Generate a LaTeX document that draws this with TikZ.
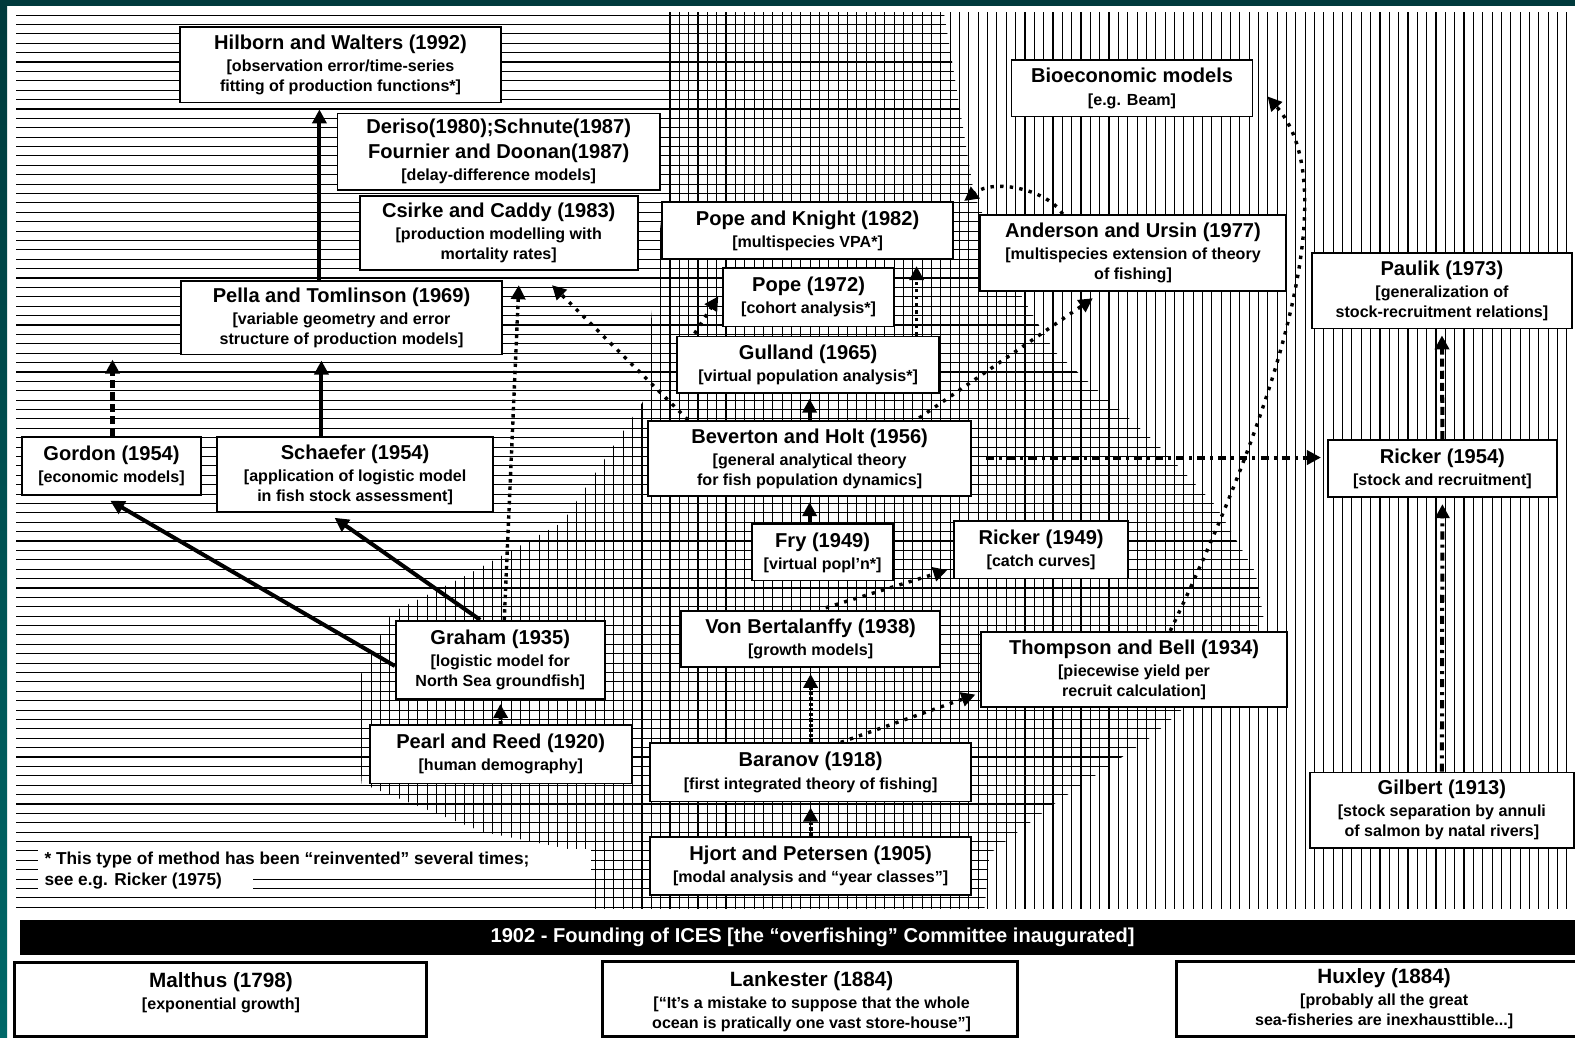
\documentclass[tikz,border=0pt]{standalone}
\usepackage{fontspec}
\setmainfont{Liberation Sans}
\usetikzlibrary{arrows.meta,calc}
\definecolor{tealdark}{HTML}{003A3C}
\definecolor{teallight}{HTML}{006868}
\newcommand{\ttl}[1]{{\fontsize{10}{12}\selectfont #1}}
\newcommand{\ttr}[1]{{\fontsize{10.3}{12}\selectfont #1}}
% box node: name, x1, y1, x2, y2, text
\newcommand{\bxn}[6]{\node[bx, minimum width={(#4-#2)*0.5pt}, minimum height={(#5-#3)*0.5pt}] (#1) at ({(#2+#4)/2},{(#3+#5)/2}) {#6};}
\newcommand{\bigbxn}[5]{\node[bigbx, minimum width={(#4-#2)*0.5pt}, minimum height={(#5-#3)*0.5pt}] (#1) at ({(#2+#4)/2},{(#3+#5)/2}) {};}
\tikzset{
  bx/.style={draw, line width=0.9pt, fill=white, inner sep=0pt, align=center,
    font=\fontsize{8}{10}\selectfont\bfseries},
  bigbx/.style={draw, line width=1.5pt, fill=white, inner sep=0pt},
  txt/.style={inner sep=0pt, align=center, font=\fontsize{8}{10}\selectfont\bfseries},
  hatch/.style={line width=0.55pt},
  tipA/.style={-{Triangle[width=7pt,length=7pt]}},
  solidarr/.style={tipA, line width=2pt},
  dotarr/.style={tipA, line width=1.7pt, dash pattern=on 1.7pt off 3.1pt},
  dotarrd/.style={tipA, line width=1.7pt, dash pattern=on 1.7pt off 1.9pt},
  dasharr/.style={tipA, line width=2pt, dash pattern=on 4pt off 2pt},
  dashdotarr/.style={tipA, line width=2pt, dash pattern=on 4pt off 2.5pt on 1.5pt off 2.5pt},
  sqarr/.style={tipA, line width=2pt, dash pattern=on 1.6pt off 1pt}
}
\begin{document}
\begin{tikzpicture}[x=0.5pt,y=-0.5pt]
\useasboundingbox (0,0) rectangle (1568,1033);
\fill[white] (0,0) rectangle (1568,1033);
\fill[tealdark] (0,0) rectangle (1568,6);
\shade[top color=tealdark, bottom color=teallight] (0,0) rectangle (7,1033);

% horizontal hatching (left + middle)
\begin{scope}
\clip (16,14) -- (940,14) -- (970,195) -- (1010,283) -- (1050,350) -- (1150,440)
  -- (1210,503) -- (1250,570) -- (1258,615) -- (1230,650) -- (1173,710) -- (1147,733)
  -- (1050,800) -- (985,850) -- (980,906) -- (16,906) -- cycle;
\foreach \i in {0,...,95} \draw[hatch] (16,15+\i*9.35) -- (1568,15+\i*9.35);
\end{scope}
% vertical hatching (middle + right)
\begin{scope}
\clip (660,12) -- (660,200) -- (640,400) -- (560,520) -- (460,575) -- (390,610)
  -- (355,680) -- (360,780) -- (480,828) -- (590,850) -- (590,905) -- (1568,905)
  -- (1568,12) -- cycle;
\foreach \i in {0,...,167} \draw[hatch] (16+\i*9.3,12) -- (16+\i*9.3,905);
\end{scope}
% footnote masks
\fill[white] (38,845) rectangle (588,868);
\fill[white] (38,868) rectangle (252,893);

% nodes
\bxn{hw}{179}{27}{499}{102}{\ttl{Hilborn and Walters (1992)}\\[1pt]{}[observation error/time-series\\fitting of production functions*]}
\bxn{dr}{336}{113}{657}{189}{\ttl{Deriso(1980);Schnute(1987)}\\[2.5pt]\ttl{Fournier and Doonan(1987)}\\[1pt]{}[delay-difference models]}
\bxn{cc}{358}{195}{635}{269}{\ttl{Csirke and Caddy (1983)}\\[1pt]{}[production modelling with\\mortality rates]}
\bxn{pk}{659}{201}{949}{258}{\ttl{Pope and Knight (1982)}\\[1pt]{}[multispecies VPA*]}
\bxn{au}{976}{214}{1280}{290}{\ttl{Anderson and Ursin (1977)}\\[1pt]{}[multispecies extension of theory\\of fishing]}
\bxn{bm}{1007}{60}{1247}{116}{\ttl{Bioeconomic models}\\[1pt]{}[e.g. Beam]}
\bxn{pp}{720}{267}{890}{325}{\ttl{Pope (1972)}\\[1pt]{}[cohort analysis*]}
\bxn{pt}{180}{280}{500}{353}{\ttl{Pella and Tomlinson (1969)}\\[1pt]{}[variable geometry and error\\structure of production models]}
\bxn{pa}{1306}{252}{1565}{327}{\ttl{Paulik (1973)}\\[1pt]{}[generalization of\\stock-recruitment relations]}
\bxn{gl}{674}{335}{935}{391}{\ttl{Gulland (1965)}\\[1pt]{}[virtual population analysis*]}
\bxn{gd}{22}{435}{200}{493}{\ttl{Gordon (1954)}\\[1pt]{}[economic models]}
\bxn{sf}{216}{435}{491}{510}{\ttl{Schaefer (1954)}\\[1pt]{}[application of logistic model\\in fish stock assessment]}
\bxn{bh}{645}{419}{967}{494}{\ttl{Beverton and Holt (1956)}\\[1pt]{}[general analytical theory\\for fish population dynamics]}
\bxn{rk}{1322}{438}{1550}{495}{\ttl{Ricker (1954)}\\[1pt]{}[stock and recruitment]}
\bxn{fr}{749}{522}{889}{578}{\ttl{Fry (1949)}\\[1pt]{}[virtual popl’n*]}
\bxn{rc}{950}{519}{1123}{576}{\ttl{Ricker (1949)}\\[1pt]{}[catch curves]}
\bxn{gr}{394}{618}{602}{696}{\ttl{Graham (1935)}\\[1pt]{}[logistic model for\\North Sea groundfish]}
\bxn{vb}{678}{608}{936}{664}{\ttl{Von Bertalanffy (1938)}\\[1pt]{}[growth models]}
\bxn{tb}{977}{629}{1281}{704}{\ttl{Thompson and Bell (1934)}\\[1pt]{}[piecewise yield per\\recruit calculation]}
\bxn{pr}{368}{722}{629}{780}{\ttl{Pearl and Reed (1920)}\\[1pt]{}[human demography]}
\bxn{br}{647}{740}{967}{798}{\ttl{Baranov (1918)}\\[1pt]{}[first integrated theory of fishing]}
\bxn{gb}{1304}{769}{1567}{844}{\ttl{Gilbert (1913)}\\[1pt]{}[stock separation by annuli\\of salmon by natal rivers]}
\bxn{hj}{647}{833}{967}{891}{\ttl{Hjort and Petersen (1905)}\\[1pt]{}[modal analysis and “year classes”]}

\node[inner sep=0pt, anchor=west, align=left, font=\fontsize{8.6}{10.5}\selectfont\bfseries] (fn) at (44,866.5) {* This type of method has been “reinvented” several times;\\see e.g. Ricker (1975)};

% banner
\node[fill=black, inner sep=0pt, minimum width=774pt, minimum height=17.5pt] (ices) at (794,933.5) {};
\node[inner sep=0pt, text=white, font=\fontsize{10}{12}\selectfont\bfseries] (icestx) at (809,933) {1902 - Founding of ICES [the “overfishing” Committee inaugurated]};

% bottom boxes
\bigbxn{ma}{14}{958}{425}{1032}
\node[txt] (matx) at (220,988) {\ttr{Malthus (1798)}\\[1pt]{}[exponential growth]};
\bigbxn{lk}{600}{957}{1013}{1032}
\node[txt] (lktx) at (808,997) {\ttr{Lankester (1884)}\\[1pt]{}[“It’s a mistake to suppose that the whole\\ocean is pratically one vast store-house”]};
\bigbxn{hx}{1171}{957}{1580}{1032}
\node[txt] (hxtx) at (1378,994.5) {\ttr{Huxley (1884)}\\[1pt]{}[probably all the great\\sea-fisheries are inexhausttible...]};

% connectors
\coordinate (gdup) at (112,358);
\draw[solidarr, shorten >=3pt] ($(pt.north)+(-22,0)$) -- ($(hw.south)+(-21,0)$);
\draw[solidarr, shorten >=2.5pt] ($(sf.north)+(-33.5,0)$) -- ($(pt.south)+(-20,0)$);
\draw[dasharr] ($(gd.north)+(1,0)$) -- (gdup);
\draw[solidarr, shorten >=4.5pt] ($(gr.west)+(0,6)$) -- ($(gd.south)+(-9,0)$);
\draw[solidarr, shorten >=4pt] ($(gr.north)+(-20,0)$) -- ($(sf.south)+(-27,0)$);
\draw[dotarrd] ($(gr.north)+(4,0)$) -- ($(cc.south)+(20,14)$);
\draw[dotarr] ($(bh.north)+(-121,0)$) -- ($(cc.south)+(53,14)$);
\draw[dotarr] ($(gl.north)+(-113,-2)$) -- ($(pp.west)+(-4,-1)$);
\draw[dotarrd] ($(gl.north)+(108,0)$) -- ($(pk.south)+(108.5,6)$);
\draw[solidarr, shorten >=2.5pt] (bh.north) -- ($(gl.south)+(1.5,0)$);
\draw[solidarr, shorten >=2.5pt] ($(fr.north)+(-13,0)$) -- (bh.south);
\draw[dotarr] ($(bh.north)+(109,-2)$) -- ($(au.south)+(-40,6)$);
\draw[dotarr] ($(au.north)+(-70,0)$) .. controls ($(au.north)+(-85,-24)$) and ($(pk.north east)+(40,-23)$) .. ($(pk.north east)+(10,0)$);
\draw[dotarr] ($(tb.north)+(36,0)$) .. controls (1260,430) and (1345,190) .. ($(bm.east)+(14,8)$);
\draw[dashdotarr] ($(bh.east)+(14,-1)$) -- ($(rk.west)+(-6,-11)$);
\draw[dashdotarr, shorten >=3pt] (gb.north) -- (rk.south);
\draw[dasharr, shorten >=3pt] (rk.north) -- (pa.south);
\draw[dotarr] ($(vb.north)+(15,-2)$) -- ($(rc.west)+(-6,20)$);
\draw[sqarr, shorten >=3pt] (br.north) -- (vb.south);
\draw[dotarr] ($(br.north)+(30,0)$) -- ($(tb.west)+(-5,25)$);
\draw[sqarr, shorten >=2.5pt] (hj.north) -- (br.south);
\draw[sqarr, shorten >=2pt] (pr.north) -- (gr.south);
\end{tikzpicture}
\end{document}
